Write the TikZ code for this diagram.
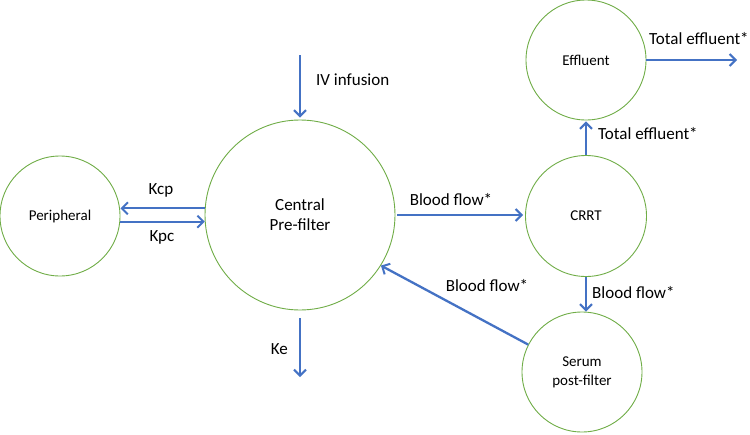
\documentclass[tikz,border=0pt]{standalone}
\usepackage{fontspec}
\setmainfont{Carlito}
\usetikzlibrary{arrows.meta}
\definecolor{cgreen}{HTML}{70AD47}
\definecolor{cblue}{HTML}{4472C4}
\tikzset{
  comp/.style={circle, draw=cgreen, line width=0.9pt, fill=white, inner sep=0pt, align=center, font=\fontsize{15}{19}\selectfont},
  flow/.style={draw=cblue, line width=2.3pt, -{Straight Barb[length=6pt, width=12pt, line width=2pt]}},
  lab/.style={font=\fontsize{17}{20}\selectfont, inner sep=0pt}
}
\begin{document}
\begin{tikzpicture}[x=1pt, y=-1pt]
\useasboundingbox (0,0) rectangle (750,434);
\node[comp, minimum size=120pt] (peripheral) at (60,216) {Peripheral};
\node[comp, minimum size=190pt, font=\fontsize{17}{20}\selectfont] (central) at (300,215) {Central\\Pre-filter};
\node[comp, minimum size=120pt] (effluent) at (586,60) {Effluent};
\node[comp, minimum size=121pt] (crrt) at (586,216) {CRRT};
\node[comp, minimum size=120pt] (serum) at (582,372) {Serum\\post-filter};
\coordinate (iv) at (300,55);
\coordinate (ke) at (300,377);
\coordinate (out) at (737,60);
% arrows
\draw[flow] (central.176) -- (central.176 -| peripheral.east);
\draw[flow] (peripheral.east |- central.184) -- (central.184);
\draw[flow, shorten >=2pt] (iv) -- (central.north);
\draw[flow, shorten <=8pt] (central.south) -- (ke);
\draw[flow, shorten <=2pt, shorten >=2pt] (central.east) -- (central.east -| crrt.west);
\draw[flow, shorten >=1pt] (crrt.north) -- (effluent.south);
\draw[flow] (effluent.east) -- (out);
\draw[flow] (crrt.south) -- (crrt.south |- serum.north);
\draw[flow] (serum.153) -- (central.-32);
% labels
\node[lab] (lkcp) at (161,190) {Kcp};
\node[lab] (lkpc) at (162,237) {Kpc};
\node[lab, anchor=west] (liv) at (316,80) {IV infusion};
\node[lab, anchor=east] (lke) at (288,349) {Ke};
\node[lab] (lbf1) at (451,200) {Blood flow*};
\node[lab] (lbf2) at (487,286) {Blood flow*};
\node[lab, anchor=west] (lbf3) at (592,293) {Blood flow*};
\node[lab, anchor=west] (lte1) at (598,134) {Total effluent*};
\node[lab, anchor=west] (lte2) at (649,39) {Total effluent*};
\end{tikzpicture}
\end{document}
